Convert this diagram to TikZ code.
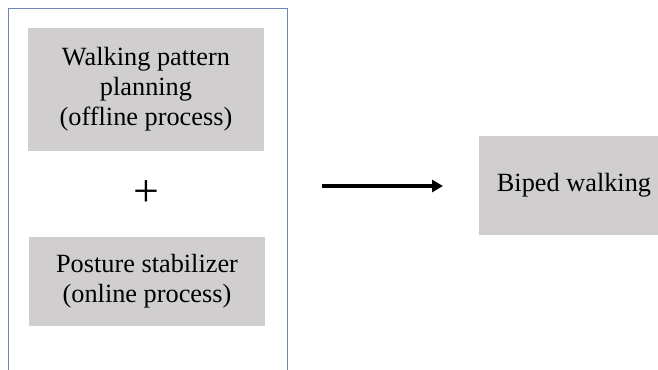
\documentclass[tikz,border=0pt]{standalone}
\usepackage{fontspec}
\setmainfont{Liberation Serif}
\usetikzlibrary{arrows.meta}
\definecolor{boxgray}{HTML}{D0CECE}
\definecolor{framecol}{HTML}{6F87B6}
\tikzset{
  graybox/.style={fill=boxgray, draw=none, align=center, inner sep=0pt,
    font=\fontsize{26.4}{30}\selectfont},
  outerframe/.style={draw=framecol, line width=1.6bp, anchor=north west, inner sep=0pt},
  flowarrow/.style={line width=3.2bp, -{Triangle[length=11bp,width=12bp]}}
}
\begin{document}
\begin{tikzpicture}[x=1bp,y=-1bp]
  \useasboundingbox (0,0) rectangle (658,369);
  \clip (0,0) rectangle (658,369);
  % white background
  \fill[white] (0,0) rectangle (658,369);
  % outer frame around the two process blocks
  \node[outerframe, minimum width=279bp, minimum height=400bp] (frame) at (7.5,7.5) {};
  % process blocks
  \node[graybox, minimum width=236bp, minimum height=123bp] (plan) at (146,89.5)
    {Walking pattern\\planning\\(offline process)};
  \node[font=\fontsize{46}{46}\selectfont, inner sep=0pt] (plus) at (146.5,194) {+};
  \node[graybox, minimum width=236bp, minimum height=89bp] (stab) at (147,281.5)
    {Posture stabilizer\\(online process)};
  % result block
  \node[graybox, minimum width=190bp, minimum height=99bp] (biped) at (574,185.5)
    {Biped walking};
  % connector
  \coordinate (a1) at (322,186);
  \coordinate (a2) at (443,186);
  \draw[flowarrow] (a1) -- (a2);
\end{tikzpicture}
\end{document}
